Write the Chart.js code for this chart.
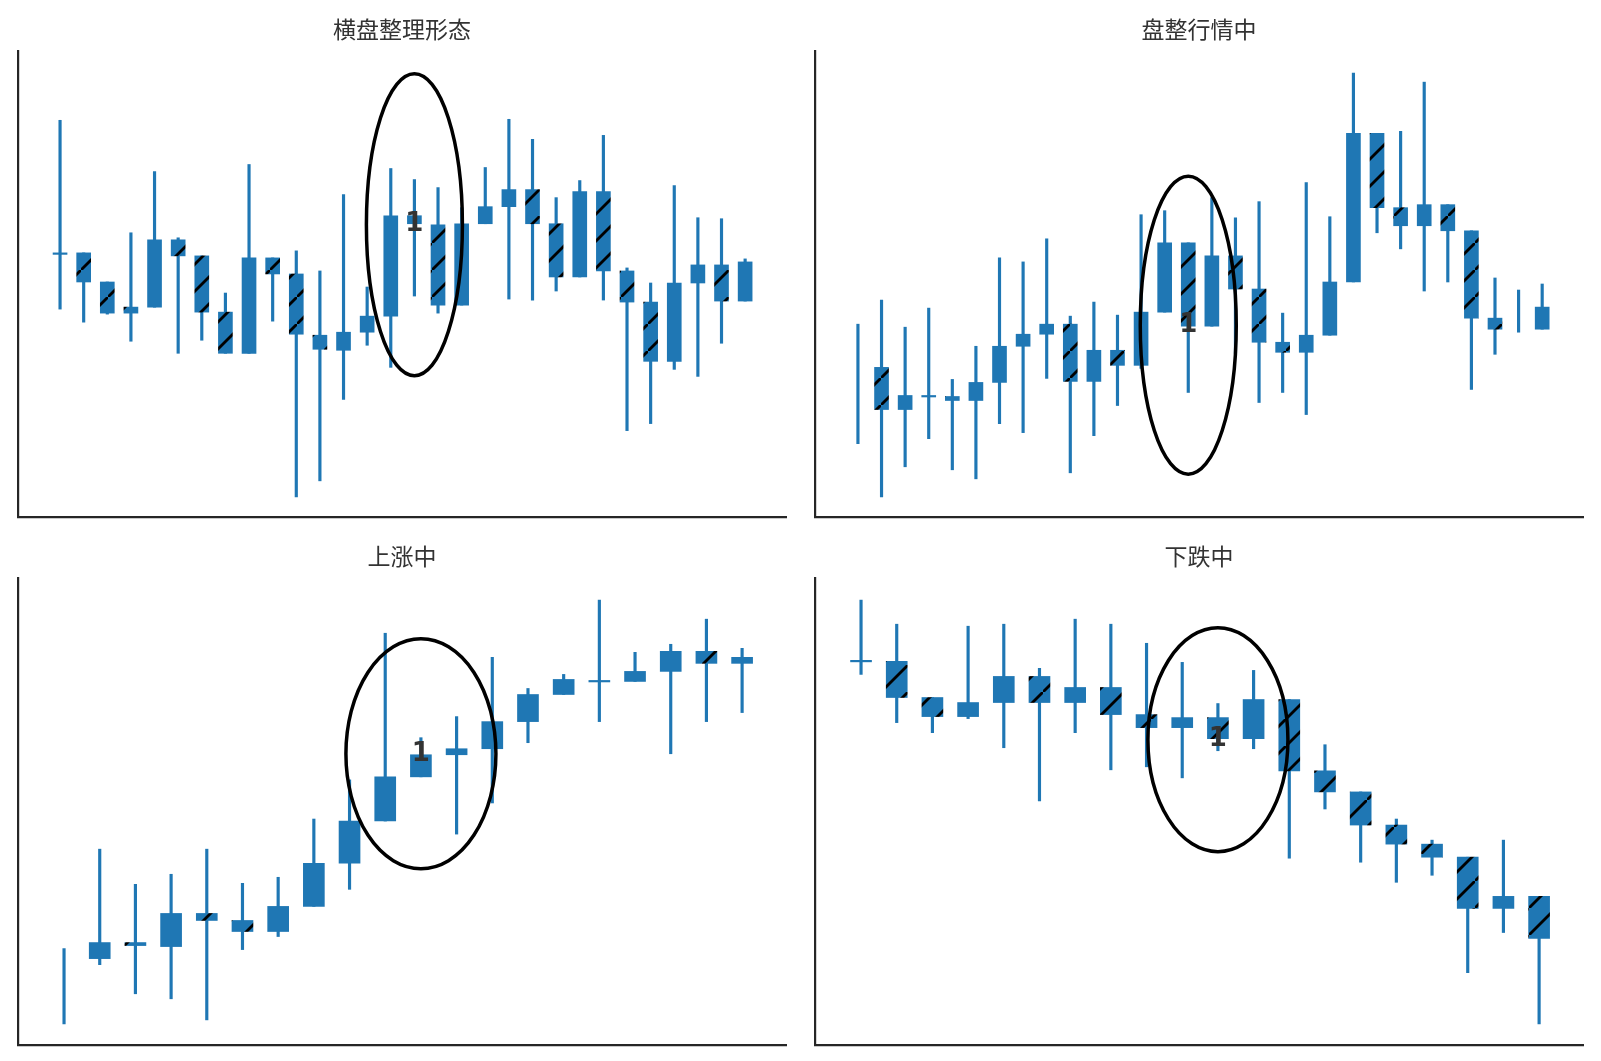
<!DOCTYPE html>
<html>
<head>
<meta charset="utf-8">
<script src="https://cdn.jsdelivr.net/npm/chart.js@4/dist/chart.umd.min.js"></script>
<style>
	html, body { margin: 0; padding: 0; background: #fff; }
	.panel { position: absolute; }
</style>
</head>
<body>
<div class="panel" style="left:0;top:0;width:800px;height:530px"><canvas id="c1"></canvas></div>
<div class="panel" style="left:800px;top:0;width:800px;height:530px"><canvas id="c2"></canvas></div>
<div class="panel" style="left:0;top:530px;width:800px;height:531px"><canvas id="c3"></canvas></div>
<div class="panel" style="left:800px;top:530px;width:800px;height:531px"><canvas id="c4"></canvas></div>
<script>
// values are read off the picture, on an inverted (top = small) scale
// null open/close = candle drawn as a bare wick
var titles = ["横盘整理形态", "盘整行情中", "上涨中", "下跌中"];

var open1  = [252,252,281,306,306,239,255,311,352,257,273,334,349,331,315,223,224,304,223,206,189,223,276,191,270,301,360,282,264,300];
var close1 = [252,281,312,312,239,255,311,352,257,273,333,348,331,315,215,215,304,223,206,189,223,276,191,270,301,360,282,264,300,261];
var high1  = [120,252,281,232,171,237,255,292,164,257,250,270,194,286,168,179,187,207,167,119,139,197,180,135,267,282,185,217,218,258];
var low1   = [308,321,313,340,306,352,339,352,352,320,495,479,398,344,366,295,312,304,223,298,299,290,276,299,429,422,368,375,342,300];

var open2  = [null,366,408,394,395,399,381,345,333,323,380,349,364,311,242,325,255,288,341,351,334,281,133,207,225,204,230,317,null,328];
var close2 = [null,408,394,394,399,381,345,333,323,380,349,364,311,242,325,255,288,341,351,334,281,133,207,225,204,230,317,328,null,306];
var high2  = [323,299,326,307,378,345,257,261,238,315,301,314,214,210,242,197,217,201,312,182,216,73,133,131,82,204,230,277,289,283];
var low2   = [442,495,465,437,468,477,422,431,377,471,434,404,367,311,391,325,352,401,391,413,334,281,232,248,290,281,388,353,331,328];

var open3  = [null,957,941,945,912,919,930,905,862,820,776,754,748,721,694,680,681,671,651,663];
var close3 = [null,941,944,912,919,930,905,862,820,776,754,748,721,694,679,680,671,651,663,657];
var high3  = [947,848,883,873,848,882,876,818,779,633,737,716,657,688,674,600,652,644,619,648];
var low3   = [1022,963,992,997,1018,948,935,905,888,820,776,833,802,742,694,721,681,753,721,712];

var open4  = [660,661,697,716,702,676,702,687,714,727,717,738,699,770,791,824,843,856,907,895];
var close4 = [660,697,716,702,676,702,687,714,727,717,738,699,770,791,824,843,856,907,895,937];
var high4  = [600,624,697,626,624,668,619,624,643,662,703,670,699,744,791,818,839,856,839,895];
var low4   = [674,722,732,718,747,800,732,769,766,777,750,748,857,808,861,881,874,971,931,1022];

// circled candle: index, value, half width / half height in px
var marks = [
	{ i: 15, v: 224, rx: 48, ry: 151 },
	{ i: 14, v: 324, rx: 48, ry: 149 },
	{ i: 10, v: 753, rx: 75, ry: 115 },
	{ i: 10, v: 739, rx: 70, ry: 112 }
];

var BLUE = "#1f77b4";

function MakeHatch()
{
	var c = document.createElement("canvas");
	c.width = 27; c.height = 27;
	var g = c.getContext("2d");
	g.fillStyle = BLUE;
	g.fillRect(0, 0, 27, 27);
	g.strokeStyle = "#000";
	g.lineWidth = 2.8;
	g.beginPath();
	g.moveTo(-3, 30); g.lineTo(30, -3);
	g.stroke();
	return g.createPattern(c, "repeat");
}
var hatch = MakeHatch();

function MakePanel(id, n, o, c, h, l, title, mark, pad, yMin, yMax, xMin, xMax, barW)
{
	var bodies = [], wicks = [], fills = [];
	for (var i = 0; i < n; i++)
	{
		var oc = o[i] === null ? null : (o[i] === c[i] ? [o[i], o[i] + 1.5] : [o[i], c[i]]);
		bodies.push({ x: i, y: oc });
		wicks.push({ x: i, y: [l[i], h[i]] });
		fills.push(o[i] !== null && c[i] > o[i] + 1 ? hatch : BLUE);
	}

	var overlay = {
		id: "overlay",
		afterDatasetsDraw: function(chart)
		{
			var ctx = chart.ctx, xs = chart.scales.x, ys = chart.scales.y, a = chart.chartArea;
			var cx = xs.getPixelForValue(mark.i), cy = ys.getPixelForValue(mark.v);
			ctx.save();
			ctx.strokeStyle = "#000";
			ctx.lineWidth = 3.5;
			ctx.beginPath();
			ctx.ellipse(cx, cy, mark.rx, mark.ry, 0, 0, Math.PI * 2);
			ctx.stroke();
			ctx.fillStyle = "#333";
			ctx.font = "bold 26px 'DejaVu Sans'";
			ctx.textAlign = "center";
			ctx.textBaseline = "middle";
			ctx.fillText("1", cx, cy);
			ctx.font = "23px 'Noto Sans CJK SC'";
			ctx.fillText(title, (a.left + a.right) / 2, a.top - 22);
			ctx.restore();
		}
	};

	new Chart(document.getElementById(id), {
		type: "bar",
		data: {
			datasets: [
				{ data: bodies, backgroundColor: fills, barThickness: barW, grouped: false, order: 0 },
				{ data: wicks, backgroundColor: BLUE, barThickness: 2.5, grouped: false, order: 1 }
			]
		},
		options: {
			responsive: true,
			maintainAspectRatio: false,
			animation: false,
			layout: { padding: pad },
			plugins: { legend: { display: false }, tooltip: { enabled: false } },
			scales: {
				x: {
					type: "linear", min: xMin, max: xMax, offset: false,
					ticks: { display: false }, grid: { display: false },
					border: { display: true, color: "#262626", width: 2.2 }
				},
				y: {
					reverse: true, min: yMin, max: yMax,
					ticks: { display: false }, grid: { display: false },
					border: { display: true, color: "#262626", width: 2.2 }
				}
			}
		},
		plugins: [overlay]
	});
}

MakePanel("c1", 30, open1, close1, high1, low1, titles[0], marks[0], { left: 10, top: 51, right: 14, bottom: 5 }, 51, 515, -1.78, 30.73, 14);
MakePanel("c2", 30, open2, close2, high2, low2, titles[1], marks[1], { left: 7, top: 51, right: 17, bottom: 5 }, 51, 515, -1.82, 30.73, 14);
MakePanel("c3", 20, open3, close3, high3, low3, titles[2], marks[2], { left: 10, top: 48, right: 14, bottom: 8 }, 578, 1043, -1.29, 20.23, 21);
MakePanel("c4", 20, open4, close4, high4, low4, titles[3], marks[3], { left: 7, top: 48, right: 17, bottom: 8 }, 578, 1043, -1.29, 20.23, 21);
</script>
</body>
</html>
